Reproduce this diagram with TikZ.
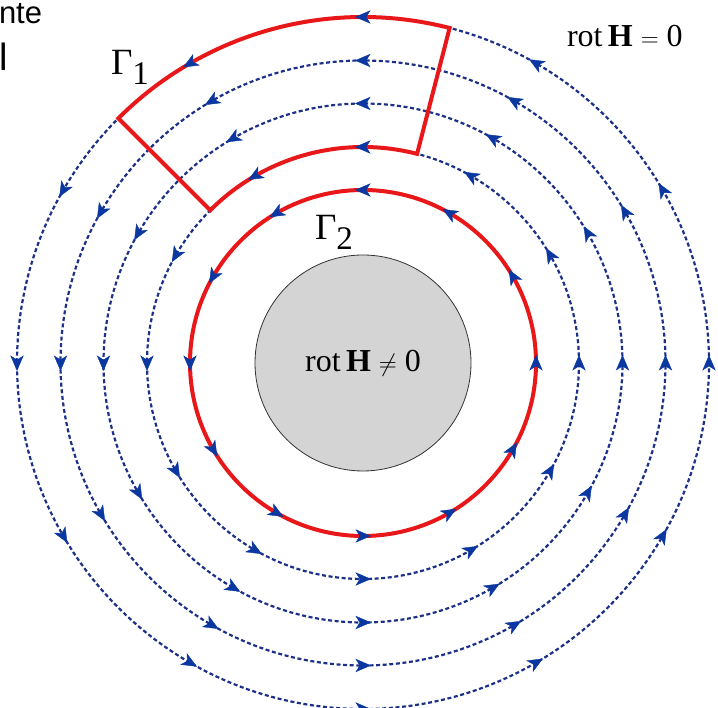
\documentclass[tikz,border=0pt]{standalone}
\usepackage{fontspec}
\setmainfont{Liberation Serif}
\newfontfamily\arialfont{Liberation Sans}
\usetikzlibrary{calc}
\definecolor{fieldblue}{RGB}{28,48,135}
\definecolor{arrowblue}{RGB}{10,55,160}
\definecolor{gammared}{RGB}{232,24,26}
\definecolor{coregray}{RGB}{212,212,212}
\tikzset{
  fieldline/.style={draw=fieldblue, line width=2.2pt, dash pattern=on 4pt off 2.6pt},
  redpath/.style={draw=gammared, line width=4pt, line join=miter},
  flowhead/.style={fill=arrowblue, draw=arrowblue, line width=0.4pt, line join=miter},
  lbl/.style={inner sep=0pt, outer sep=0pt, anchor=base west},
}
\begin{document}
\begin{tikzpicture}[x=1pt,y=1pt]
\useasboundingbox (0,0) rectangle (718,708);
\coordinate (O) at (363,345);
% field lines (dashed)
\foreach \r in {216,259.5,302.5,346} {
  \draw[fieldline] (O) circle[radius=\r];
}
% contour Gamma_2
\draw[redpath] (O) circle[radius=173];
% contour Gamma_1
\draw[redpath] ($(O)+(75.5:346)$) arc[start angle=75.5, end angle=135, radius=346]
  -- ($(O)+(135:216)$) arc[start angle=135, end angle=75.5, radius=216] -- cycle;
% arrowheads, counterclockwise, every 30 degrees
\foreach \r in {173,216,259.5,302.5,346} {
  \foreach \a in {0,30,...,330} {
    \path[flowhead, shift={($(O)+(\a:\r)$)}, rotate=\a+90]
      (7.5,0) -- (-7,6.2) -- (-3,0) -- (-7,-6.2) -- cycle;
  }
}
% current-carrying core
\node (core) [circle, draw=black!80, line width=0.8pt, fill=coregray,
  minimum size=216pt, inner sep=0pt] at (O)
  {\fontsize{32}{36}\selectfont rot\,\textbf{H}~$\neq$~0};
% labels
\node (g1) [lbl] at (111,633)
  {\fontsize{37}{40}\selectfont Γ\raisebox{-10pt}{\fontsize{33}{36}\selectfont 1}};
\node (g2) [lbl] at (315,468)
  {\fontsize{37}{40}\selectfont Γ\raisebox{-10pt}{\fontsize{33}{36}\selectfont 2}};
\node (rot0) [lbl] at (567,661)
  {\fontsize{32}{36}\selectfont rot\,\textbf{H}~$=$~0};
% cropped slide text
\node (t1) [lbl] at (-1,684) {\arialfont\fontsize{31}{34}\selectfont nte};
\node (t2) [lbl] at (-1,637) {\arialfont\fontsize{38}{40}\selectfont l};
\end{tikzpicture}
\end{document}
